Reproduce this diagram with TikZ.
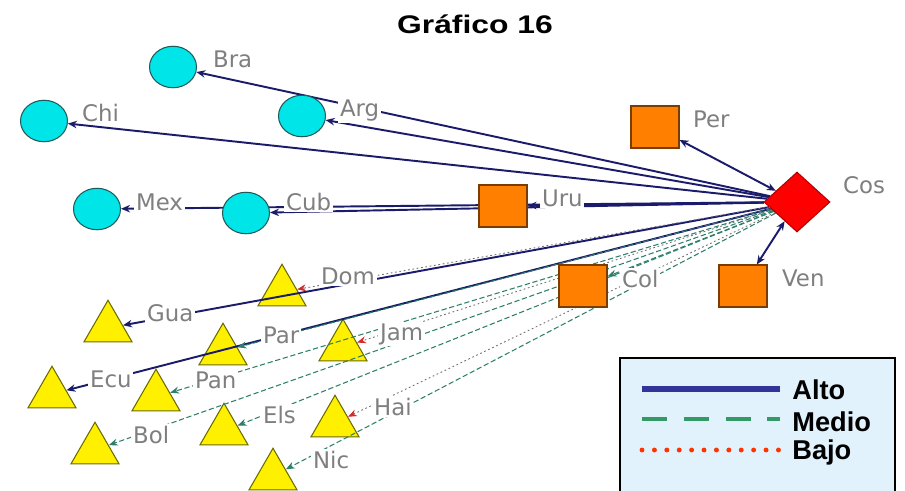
\documentclass[tikz,border=0pt]{standalone}
\usepackage{fontspec}
\newfontfamily\lblfont{DejaVu Sans}
\newfontfamily\titfont[FakeStretch=1.25]{Liberation Sans}
\newfontfamily\leyfont{Liberation Sans}
\usetikzlibrary{shapes.geometric,arrows.meta}

\pgfdeclarelayer{tri}
\pgfdeclarelayer{lineas}
\pgfsetlayers{tri,lineas,main}

\definecolor{ccyan}{HTML}{00E5E8}
\definecolor{cborde}{HTML}{1F5A5A}
\definecolor{cnaranja}{HTML}{FF8000}
\definecolor{oborde}{HTML}{7A3D00}
\definecolor{camarillo}{HTML}{FFF000}
\definecolor{tborde}{HTML}{6B6B00}
\definecolor{crojo}{HTML}{FF0000}
\definecolor{rborde}{HTML}{B00000}
\definecolor{cgris}{HTML}{7F7F7F}
\definecolor{altoc}{HTML}{1B1B6B}
\definecolor{medioc}{HTML}{2E7F6A}
\definecolor{bajoc}{HTML}{707070}
\definecolor{bajop}{HTML}{D42A2A}
\definecolor{leyalto}{HTML}{333399}
\definecolor{leymedio}{HTML}{339966}
\definecolor{leybajo}{HTML}{FF3300}
\definecolor{leyfondo}{HTML}{E2F2FD}

\tikzset{
  circulo/.style={ellipse, draw=cborde, line width=0.6pt, fill=ccyan,
    minimum width=0.94cm, minimum height=0.83cm, inner sep=0pt},
  cuadro/.style={rectangle, draw=oborde, line width=0.6pt, fill=cnaranja,
    minimum width=0.96cm, minimum height=0.84cm, inner sep=0pt},
  triang/.style={regular polygon, regular polygon sides=3, draw=tborde,
    line width=0.6pt, fill=camarillo, minimum size=1.11cm, inner sep=0pt},
  rombo/.style={diamond, draw=rborde, line width=0.6pt, fill=crojo,
    minimum width=1.32cm, minimum height=1.2cm, inner sep=0pt},
  etiq/.style={anchor=base west, text=cgris, fill=white, inner sep=1pt,
    font=\lblfont\fontsize{13}{15}\selectfont},
  alto/.style={draw=altoc, line width=1.1pt,
    -{Stealth[length=1.8mm,width=1.5mm]}},
  ambos/.style={draw=altoc, line width=1.1pt,
    {Stealth[length=1.8mm,width=1.5mm]}-{Stealth[length=1.8mm,width=1.5mm]}},
  medio/.style={draw=medioc, line width=0.6pt, dash pattern=on 3pt off 1.5pt,
    -{Stealth[length=1.8mm,width=1.4mm,color=medioc]}},
  bajo/.style={draw=bajoc, line width=0.5pt, dash pattern=on 1pt off 1.5pt,
    -{Stealth[length=1.8mm,width=1.4mm,color=bajop]}},
  leyenda/.style={anchor=base west, inner sep=0pt,
    font=\leyfont\bfseries\fontsize{15.5}{18}\selectfont}
}

\begin{document}
\begin{tikzpicture}[x=0.02cm,y=-0.02cm]
            \useasboundingbox (0,0) rectangle (905,490);

            \node[anchor=base, font=\titfont\bfseries\fontsize{14.5}{17}\selectfont]
            (titulo) at (475,33) {Gráfico 16}; % title

            % triangles, under the lines
            \begin{pgfonlayer}{tri}
            \node[triang] (Dom) at (282,292) {};
            \node[triang] (Gua) at (108,328) {};
            \node[triang] (Par) at (223,351) {};
            \node[triang] (Jam) at (343,347) {};
            \node[triang] (Ecu) at (52,394) {};
            \node[triang] (Pan) at (156,397) {};
            \node[triang] (Els) at (224,431) {};
            \node[triang] (Hai) at (335,423) {};
            \node[triang] (Bol) at (95,450) {};
            \node[triang] (Nic) at (273,476) {};
            \end{pgfonlayer}

            % circles
            \node[circulo] (Bra) at (173,67) {};
            \node[circulo] (Chi) at (44,121) {};
            \node[circulo] (Arg) at (302,116) {};
            \node[circulo] (Mex) at (97,209) {};
            \node[circulo] (Cub) at (246,213) {};

            % squares
            \node[cuadro] (Per) at (655,127) {};
            \node[cuadro] (Uru) at (503,206) {};
            \node[cuadro] (Col) at (583,286) {};
            \node[cuadro] (Ven) at (743,286) {};

            \node[rombo] (Cos) at (797,202) {}; % centre

            % ties
            \begin{pgfonlayer}{lineas}
            \draw[alto] (Cos) -- (Bra);
            \draw[alto] (Cos) -- (Chi);
            \draw[alto] (Cos) -- (Arg);
            \draw[alto] (Cos) -- (Mex);
            \draw[alto] (Cos) -- (Cub);
            \draw[alto] (Cos) -- (Uru);
            \draw[alto] (Cos) -- (Gua);
            \draw[alto] (Cos) -- (Ecu);
            \draw[ambos] (Cos) -- (Per);
            \draw[ambos] (Cos) -- (Ven);
            \draw[medio] (Cos) -- (Col);
            \draw[medio] (Cos) -- (Par);
            \draw[medio] (Cos) -- (Pan);
            \draw[medio] (Cos) -- (Els);
            \draw[medio] (Cos) -- (Bol);
            \draw[medio] (Cos) -- (Nic);
            \draw[bajo] (Cos) -- (Dom);
            \draw[bajo] (Cos) -- (Jam);
            \draw[bajo] (Cos) -- (Hai);
            \end{pgfonlayer}

            % labels
            \node[etiq] (lBra) at (211,67) {Bra};
            \node[etiq] (lChi) at (80,121) {Chi};
            \node[etiq] (lArg) at (338,116) {Arg};
            \node[etiq] (lMex) at (134,210) {Mex};
            \node[etiq] (lCub) at (284,210) {Cub};
            \node[etiq] (lPer) at (691,127) {Per};
            \node[etiq] (lUru) at (540,206) {Uru};
            \node[etiq] (lCol) at (620,287) {Col};
            \node[etiq] (lVen) at (780,286) {Ven};
            \node[etiq] (lCos) at (841,193) {Cos};
            \node[etiq] (lDom) at (319,284) {Dom};
            \node[etiq] (lGua) at (145,321) {Gua};
            \node[etiq] (lPar) at (261,343) {Par};
            \node[etiq] (lJam) at (378,340) {Jam};
            \node[etiq] (lEcu) at (88,387) {Ecu};
            \node[etiq] (lPan) at (193,388) {Pan};
            \node[etiq] (lEls) at (261,423) {Els};
            \node[etiq] (lHai) at (372,415) {Hai};
            \node[etiq] (lBol) at (131,443) {Bol};
            \node[etiq] (lNic) at (311,468) {Nic};

            % legend
            \fill[leyfondo] (620,358) rectangle (895,495);
            \draw[line width=1.1pt] (620,495) -- (620,358)
            -- (895,358) -- (895,495);

            \draw[leyalto, line width=3.4pt] (642,389) -- (780,389); % alto
            \draw[leymedio, line width=2.8pt, dash pattern=on 14.2pt off 9.6pt]
            (642,419) -- (780,419); % medio
            \draw[leybajo, line width=2.8pt, line cap=round,
            dash pattern=on 0pt off 7.06pt] (642,450) -- (780,450); % bajo

            \node[leyenda] (tAlto) at (792,399) {Alto};
            \node[leyenda] (tMedio) at (792,431) {Medio};
            \node[leyenda] (tBajo) at (792,459) {Bajo};
\end{tikzpicture}
\end{document}
